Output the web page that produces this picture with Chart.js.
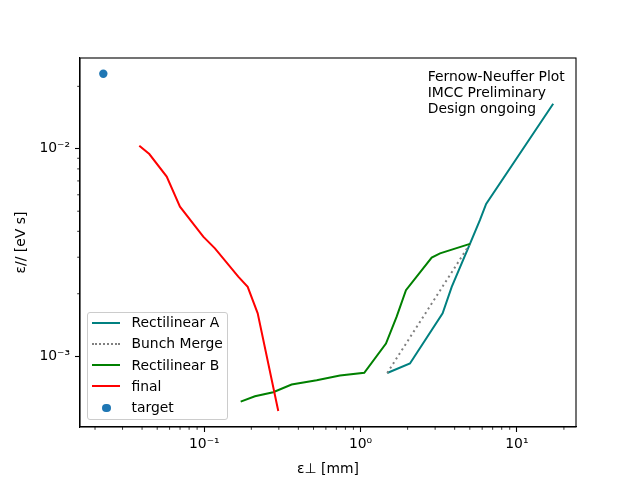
<!DOCTYPE html>
<html>
<head>
<meta charset="utf-8">
<script src="https://cdn.jsdelivr.net/npm/chart.js"></script>
<style>
  body { margin: 0; background: #fff; }
  #wrap { position: relative; width: 640px; height: 480px; font-family: 'DejaVu Sans', sans-serif; }
  #legend { position: absolute; left: 87px; top: 312px; width: 141px; height: 108px; box-sizing: border-box;
            border: 1px solid #ccc; border-radius: 3px; background: rgba(255,255,255,0.8); font-size: 13.9px; color: #000; }
  #legend .row { position: relative; height: 21.3px; margin-top: 0; }
  #legend .row:first-child { margin-top: -1px; }
  #legend .line { position: absolute; left: 4px; top: 9.6px; width: 28px; height: 0; }
  #legend .dot { position: absolute; left: 14px; top: 6.4px; width: 8.5px; height: 8.5px; border-radius: 50%; }
  #legend .lbl { position: absolute; left: 43.5px; top: 0; line-height: 21.3px; white-space: nowrap; }
</style>
</head>
<body>
<div id="wrap">
  <canvas id="chart" width="640" height="480"></canvas>
  <div id="legend"></div>
</div>

<script>
  // values (log-log axes)
  const rectAX = [1.481, 2.07, 3.35, 3.83, 5.01, 5.81, 6.36, 17.08];
  const rectAY = [0.00083, 0.000922, 0.00161, 0.00216, 0.00348, 0.00454, 0.00542, 0.01648];

  const mergeX = [1.481, 5.01];
  const mergeY = [0.00083, 0.00348];

  const rectBX = [0.171, 0.211, 0.276, 0.362, 0.524, 0.738, 1.056, 1.454, 1.702, 1.952, 2.851, 3.225, 5.01];
  const rectBY = [0.000604, 0.000641, 0.00067, 0.00073, 0.000766, 0.000807, 0.000831, 0.00115, 0.00155, 0.00208, 0.00299, 0.00313, 0.00348];

  const finalX = [0.0384, 0.0445, 0.0575, 0.0699, 0.0985, 0.117, 0.165, 0.1896, 0.2197, 0.2975];
  const finalY = [0.01034, 0.00943, 0.00735, 0.00526, 0.00377, 0.00331, 0.00242, 0.00216, 0.00161, 0.000544];

  const targetX = [0.0226];
  const targetY = [0.0230];

  const xMajor = [0.1, 1, 10];
  const yMajor = [0.001, 0.01];
  const noteLines = ['Fernow-Neuffer Plot', 'IMCC Preliminary', 'Design ongoing'];

  const pts = (xs, ys) => xs.map((x, i) => ({x: x, y: ys[i]}));

  const SUP = {'-': '\u207B', '0': '\u2070', '1': '\u00B9', '2': '\u00B2', '3': '\u00B3'};
  const sup = v => '10' + String(Math.round(Math.log10(v))).split('').map(c => SUP[c]).join('');

  const FONT = {family: 'DejaVu Sans', size: 13.9};
  Chart.defaults.color = '#000';
  Chart.defaults.font.family = 'DejaVu Sans';
  Chart.defaults.font.size = 13.9;

  // minor ticks, full axes frame and the note in the upper right
  const extras = {
    id: 'extras',
    afterDraw(chart) {
      const {ctx, chartArea: a, scales} = chart;
      ctx.save();
      ctx.strokeStyle = '#000';
      ctx.lineWidth = 0.8;
      ctx.beginPath();
      for (let d = -3; d <= 2; d++) {
        for (let k = 2; k <= 9; k++) {
          const v = k * Math.pow(10, d);
          if (v > scales.x.min && v < scales.x.max) {
            const px = scales.x.getPixelForValue(v);
            ctx.moveTo(px, a.bottom); ctx.lineTo(px, a.bottom + 2.8);
          }
          if (v > scales.y.min && v < scales.y.max) {
            const py = scales.y.getPixelForValue(v);
            ctx.moveTo(a.left, py); ctx.lineTo(a.left - 2.8, py);
          }
        }
      }
      ctx.stroke();

      ctx.lineWidth = 1.1;
      ctx.strokeRect(a.left, a.top, a.right - a.left, a.bottom - a.top);

      ctx.fillStyle = '#000';
      ctx.font = '13.9px "DejaVu Sans"';
      ctx.textAlign = 'left';
      ctx.textBaseline = 'alphabetic';
      noteLines.forEach((t, i) => ctx.fillText(t, a.left + 0.701 * (a.right - a.left), a.top + 22.7 + 16 * i));
      ctx.restore();
    }
  };

  const chart = new Chart(document.getElementById('chart'), {
    type: 'scatter',
    data: {
      datasets: [
        { label: 'Rectilinear A', data: pts(rectAX, rectAY), showLine: true, borderColor: '#008080',
          borderWidth: 2, pointRadius: 0, order: 5 },
        { label: 'Bunch Merge', data: pts(mergeX, mergeY), showLine: true, borderColor: '#808080',
          borderDash: [2, 3.4], borderWidth: 2, pointRadius: 0, order: 4 },
        { label: 'Rectilinear B', data: pts(rectBX, rectBY), showLine: true, borderColor: '#008000',
          borderWidth: 2, pointRadius: 0, order: 3 },
        { label: 'final', data: pts(finalX, finalY), showLine: true, borderColor: '#ff0000',
          borderWidth: 2, pointRadius: 0, order: 2 },
        { label: 'target', data: pts(targetX, targetY), backgroundColor: '#1f77b4', borderWidth: 0,
          pointRadius: 4.2, order: 1 }
      ]
    },
    options: {
      responsive: false,
      animation: false,
      devicePixelRatio: 1,
      layout: { padding: { top: 58, right: 64, left: 0, bottom: 0 } },
      plugins: { legend: { display: false }, tooltip: { enabled: false } },
      scales: {
        x: {
          type: 'logarithmic', position: 'bottom', bounds: 'data',
          min: 0.01603, max: 23.9,
          afterBuildTicks: s => { s.ticks = xMajor.map(v => ({value: v})); },
          afterFit: s => { s.height = 53; },
          ticks: { callback: v => sup(v), padding: 4, maxRotation: 0, autoSkip: false, color: '#000', font: FONT },
          grid: { drawOnChartArea: false, tickLength: 5, tickColor: '#000', tickWidth: 1.1 },
          border: { color: '#000', width: 1.1 },
          title: { display: true, text: 'ε⊥ [mm]', color: '#000', font: FONT, padding: { top: 0, bottom: 2 } }
        },
        y: {
          type: 'logarithmic', position: 'left', bounds: 'data',
          min: 0.0004555, max: 0.0274,
          afterBuildTicks: s => { s.ticks = yMajor.map(v => ({value: v})); },
          afterFit: s => { s.width = 80; },
          ticks: { callback: v => sup(v), padding: 5, autoSkip: false, color: '#000', font: FONT },
          grid: { drawOnChartArea: false, tickLength: 5, tickColor: '#000', tickWidth: 1.1 },
          border: { color: '#000', width: 1.1 },
          title: { display: true, text: 'ε// [eV s]', color: '#000', font: FONT, padding: { top: 13, bottom: 0 } }
        }
      }
    },
    plugins: [extras]
  });

  // legend inside the axes, lower left, built from the datasets
  const legend = document.getElementById('legend');
  chart.data.datasets.forEach(ds => {
    const row = document.createElement('div');
    row.className = 'row';
    const h = document.createElement('span');
    if (ds.showLine) {
      h.className = 'line';
      h.style.borderTop = '2px ' + (ds.borderDash ? 'dotted ' : 'solid ') + ds.borderColor;
    } else {
      h.className = 'dot';
      h.style.background = ds.backgroundColor;
    }
    const l = document.createElement('span');
    l.className = 'lbl';
    l.textContent = ds.label;
    row.appendChild(h);
    row.appendChild(l);
    legend.appendChild(row);
  });
</script>
</body>
</html>
